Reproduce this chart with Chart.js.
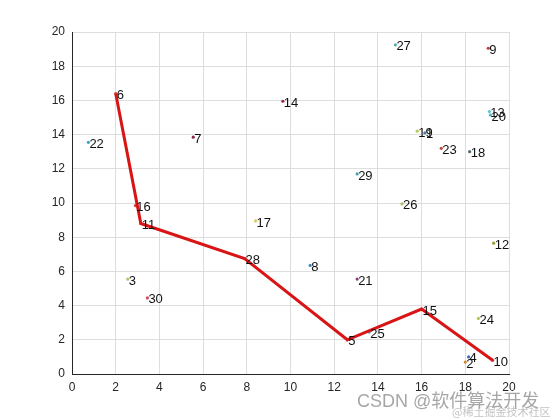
<!DOCTYPE html>
<html>
<head>
<meta charset="utf-8">
<title>route</title>
<script src="https://cdn.jsdelivr.net/npm/chart.js@4.4.1/dist/chart.umd.min.js"></script>
<style>
  html, body { margin: 0; padding: 0; background: #fff; }
  #wrap { width: 560px; height: 420px; position: relative; }
</style>
</head>
<body>
<div id="wrap"><canvas id="chart" width="560" height="420"></canvas></div>
<script>
// Point data (index = point number - 1)
const pointIds = [1, 2, 3, 4, 5, 6, 7, 8, 9, 10, 11, 12, 13, 14, 15, 16, 17, 18, 19, 20, 21, 22, 23, 24, 25, 26, 27, 28, 29, 30];
const pointX = [16.15, 18.0, 2.55, 18.15, 12.6, 2.0, 5.55, 10.9, 19.05, 19.25, 3.15, 19.3, 19.1, 9.65, 16.0,
                2.9, 8.4, 18.2, 15.8, 19.15, 13.05, 0.75, 16.9, 18.6, 13.6, 15.1, 14.8, 7.9, 13.05, 3.45];
const pointY = [14.1, 0.7, 5.55, 1.0, 2.0, 16.4, 13.85, 6.35, 19.05, 0.8, 8.8, 7.65, 15.35, 15.95, 3.8,
                9.85, 8.95, 13.0, 14.2, 15.15, 5.55, 13.55, 13.2, 3.25, 2.45, 9.95, 19.25, 6.75, 11.7, 4.45];
// visiting order of the red route
const route = [6, 11, 28, 5, 15, 10];
const xTicks = [0, 2, 4, 6, 8, 10, 12, 14, 16, 18, 20];
const yTicks = [0, 2, 4, 6, 8, 10, 12, 14, 16, 18, 20];

// dot colours (random-ish like the original)
const dotColors = ['#4a7fb0', '#d9822b', '#b5c26a', '#3d6fc9', '#c03a3a', '#d0453a', '#8a2a4a', '#4b86b3', '#c2373f', '#cc3333',
                   '#a83250', '#9a9a3a', '#5fc3d0', '#9c2a3e', '#6aa5c8', '#d6454a', '#d8cf50', '#4e6a78', '#b9c95c', '#4fb7c9',
                   '#8e3a7a', '#3fa0c0', '#c4463a', '#b8c656', '#5a8fb0', '#a5c060', '#4ab0a8', '#c65a3a', '#4aa0a8', '#cc4a5a'];

const pts = pointIds.map((id, i) => ({ x: pointX[i], y: pointY[i], id: id }));
const routePts = route.map(id => ({ x: pointX[id - 1], y: pointY[id - 1] }));

// number labels next to each dot + watermark
const labelPlugin = {
  id: 'labels',
  afterDatasetsDraw(chart) {
    const ctx = chart.ctx;
    const xs = chart.scales.x, ys = chart.scales.y;
    ctx.save();
    ctx.font = '13px "Liberation Sans", Arial, sans-serif';
    ctx.fillStyle = '#111';
    ctx.textAlign = 'left';
    ctx.textBaseline = 'middle';
    pts.forEach(p => {
      ctx.fillText(String(p.id), xs.getPixelForValue(p.x) + 1, ys.getPixelForValue(p.y) + 2);
    });
    ctx.restore();
  },
  afterDraw(chart) {
    const ctx = chart.ctx;
    ctx.save();
    ctx.textBaseline = 'alphabetic';
    ctx.textAlign = 'left';
    ctx.font = '18px "Liberation Sans", "Noto Sans CJK SC", sans-serif';
    ctx.fillStyle = 'rgba(150,150,150,0.85)';
    ctx.fillText('CSDN @软件算法开发', 357, 407);
    ctx.font = '11px "Noto Sans CJK SC", sans-serif';
    ctx.fillStyle = 'rgba(170,170,170,0.7)';
    ctx.fillText('@稀土掘金技术社区', 452, 416);
    ctx.restore();
  }
};

new Chart(document.getElementById('chart'), {
  type: 'scatter',
  data: {
    datasets: [
      {
        data: pts,
        pointRadius: 1.6,
        pointBorderWidth: 0,
        pointBackgroundColor: dotColors,
        order: 2
      },
      {
        data: routePts,
        showLine: true,
        borderColor: '#d91414',
        borderWidth: 3,
        pointRadius: 0,
        tension: 0,
        order: 1
      }
    ]
  },
  options: {
    responsive: false,
    animation: false,
    layout: { padding: { left: 0, top: 32, right: 51, bottom: 0 } },
    plugins: { legend: { display: false }, tooltip: { enabled: false } },
    scales: {
      x: {
        type: 'linear',
        min: 0, max: 20,
        afterBuildTicks: s => { s.ticks = xTicks.map(v => ({ value: v })); },
        afterFit: s => { s.height = 46; },
        ticks: { padding: 6, color: '#262626', font: { size: 12, family: '"Liberation Sans", Arial, sans-serif' } },
        grid: { color: '#dedede', drawTicks: false },
        border: { display: true, color: '#262626', width: 1 }
      },
      y: {
        type: 'linear',
        min: 0, max: 20,
        afterBuildTicks: s => { s.ticks = yTicks.map(v => ({ value: v })); },
        afterFit: s => { s.width = 72; },
        ticks: { padding: 7, color: '#262626', font: { size: 12, family: '"Liberation Sans", Arial, sans-serif' } },
        grid: { color: '#dedede', drawTicks: false },
        border: { display: true, color: '#262626', width: 1 }
      }
    }
  },
  plugins: [labelPlugin]
});
</script>
</body>
</html>
